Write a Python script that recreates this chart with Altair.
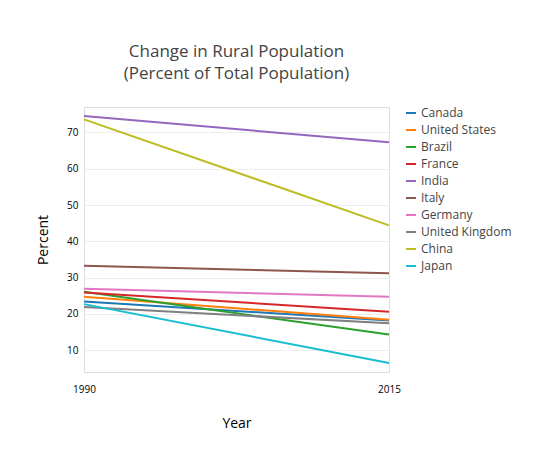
import altair as alt
import pandas as pd

countries = ["Canada","United States","Brazil","France","India","Italy","Germany","United Kingdom","China","Japan"]
v1990 = [23.4, 24.7, 26.1, 25.9, 74.5, 33.3, 26.9, 21.9, 73.6, 22.7]
v2015 = [18.2, 18.4, 14.3, 20.6, 67.3, 31.2, 24.7, 17.4, 44.4, 6.5]
colors = ["#1f77b4","#ff7f0e","#2ca02c","#d62728","#9467bd","#8c564b","#e377c2","#7f7f7f","#bcbd22","#17becf"]

rows = []
for c, a, b in zip(countries, v1990, v2015):
    rows.append({"Country": c, "Year": 1990, "Percent": a})
    rows.append({"Country": c, "Year": 2015, "Percent": b})
df = pd.DataFrame(rows)

chart = alt.Chart(df).mark_line(strokeWidth=2).encode(
    x=alt.X("Year:Q", scale=alt.Scale(domain=[1990, 2015], nice=False),
            axis=alt.Axis(values=[1990, 2015], format="d", grid=False, domain=False, ticks=False,
                          labelPadding=12, titlePadding=22, labelFlush=False,
                          titleFontWeight="normal", titleFontSize=14)),
    y=alt.Y("Percent:Q", scale=alt.Scale(domain=[4, 77], nice=False),
            axis=alt.Axis(values=[10,20,30,40,50,60,70], domain=False, ticks=False, gridColor="#eeeeee",
                          labelPadding=6, titlePadding=16,
                          titleFontWeight="normal", titleFontSize=14)),
    color=alt.Color("Country:N", sort=countries,
                    scale=alt.Scale(domain=countries, range=colors),
                    legend=alt.Legend(title=None, orient="right", symbolType="stroke", symbolStrokeWidth=2,
                                      labelFontSize=12, labelColor="#444", rowPadding=5, offset=12,
                                      padding=0)),
).properties(
    width=305, height=265,
    title=alt.TitleParams(["Change in Rural Population", "(Percent of Total Population)"],
                          fontSize=17, fontWeight="normal", color="#444", anchor="middle", offset=24,
                          lineHeight=22),
).configure_view(stroke=None).configure_axis(
    labelColor="#444", titleColor="#444", labelFontSize=12
).configure(font="Open Sans").properties(padding={"left": 28, "top": 35, "right": 5, "bottom": 5})

chart.save("out.html", embed_options={"renderer": "svg", "actions": False})
